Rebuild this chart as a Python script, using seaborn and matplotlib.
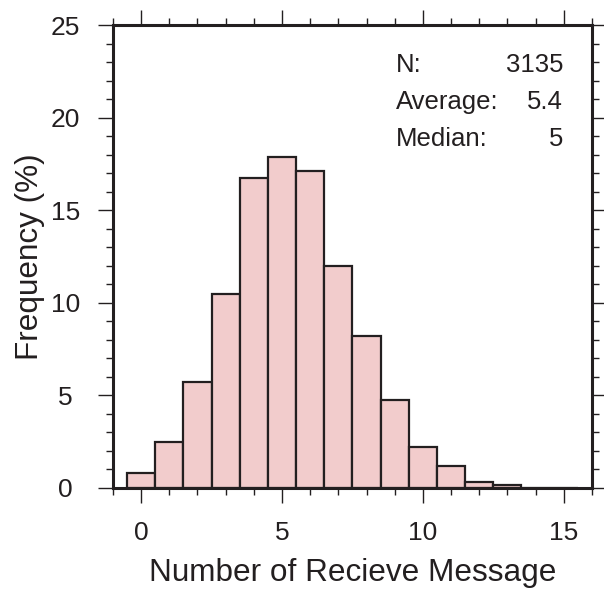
import numpy as np
import matplotlib
matplotlib.use("Agg")
import matplotlib.pyplot as plt
import seaborn as sns
from matplotlib.ticker import MultipleLocator

# histogram values (percent of messages per count)
counts = [0, 1, 2, 3, 4, 5, 6, 7, 8, 9, 10, 11, 12, 13, 14, 15]
freq = [0.83, 2.48, 5.72, 10.5, 16.74, 17.87, 17.1, 11.99, 8.2, 4.75,
        2.23, 1.19, 0.34, 0.15, 0.0, 0.0]
stat_labels = ["N:", "Average:", "Median:"]
stat_values = ["3135", "5.4", "5"]

sns.set_style("ticks")
plt.rcParams['font.family'] = ['Liberation Sans', 'DejaVu Sans']

fig = plt.figure(figsize=(6.04, 5.89), dpi=100)
ax = fig.add_axes([0.187, 0.1715, 0.793, 0.786])

sns.histplot(x=counts, weights=freq, discrete=True, stat="count",
             color="#f2cccc", alpha=1, edgecolor="#231f20", linewidth=1.6, ax=ax)

ax.set_xlim(-1, 16)
ax.set_ylim(0, 25)
ax.xaxis.set_major_locator(MultipleLocator(5))
ax.xaxis.set_minor_locator(MultipleLocator(1))
ax.yaxis.set_major_locator(MultipleLocator(5))
ax.yaxis.set_minor_locator(MultipleLocator(1))
ax.tick_params(which="both", direction="out", top=True, right=True,
               labeltop=False, labelright=False, width=1, color="#231f20",
               labelsize=19, labelcolor="#231f20")
ax.tick_params(which="major", length=11)
ax.tick_params(which="minor", length=5)
ax.tick_params(axis="x", which="major", pad=13)
ax.tick_params(axis="y", which="major", pad=23)
for lbl in ax.get_yticklabels():
    lbl.set_horizontalalignment("center")
for s in ax.spines.values():
    s.set_linewidth(2.2)
    s.set_color("#231f20")

ax.set_xlabel("Number of Recieve Message", fontsize=22.7, color="#231f20", labelpad=9)
ax.set_ylabel("Frequency (%)", fontsize=22.7, color="#231f20", labelpad=4)

for i, (lab, val) in enumerate(zip(stat_labels, stat_values)):
    y = 22.84 - 2.0 * i
    ax.text(9.04, y, lab, fontsize=18.5, va="center", ha="left", color="#231f20")
    ax.text(14.98, y, val, fontsize=18.5, va="center", ha="right", color="#231f20")

fig.savefig("out.png", dpi=100)
